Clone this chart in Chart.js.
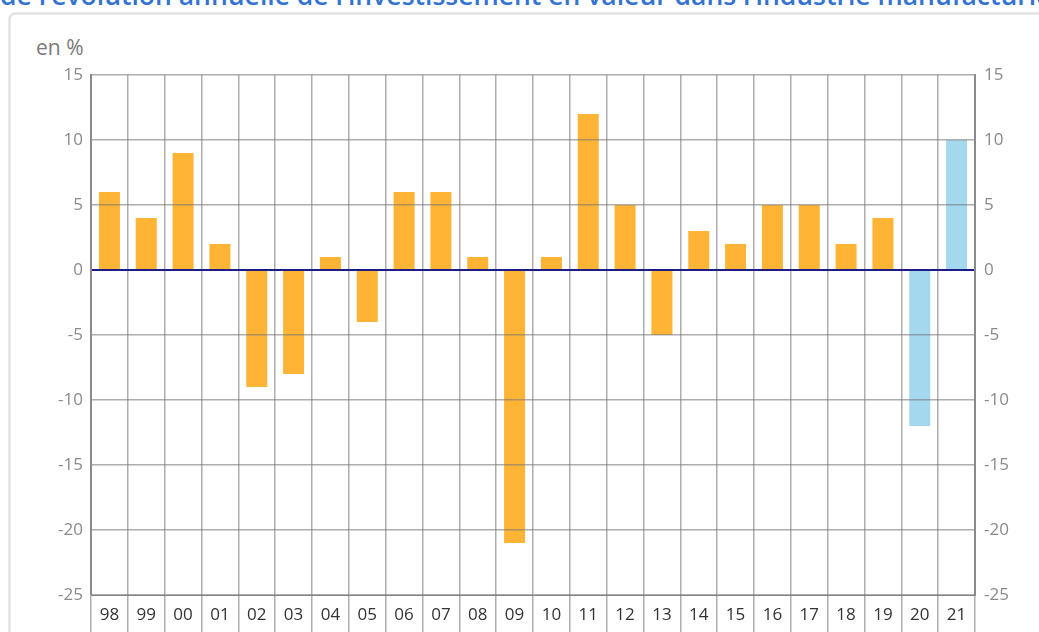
<!DOCTYPE html>
<html>
<head>
<meta charset="utf-8">
<script src="https://cdn.jsdelivr.net/npm/chart.js@4.4.1/dist/chart.umd.min.js"></script>
<style>
  html, body { margin: 0; padding: 0; background: #fff; overflow: hidden; }
  #wrap { position: relative; width: 1039px; height: 632px; overflow: hidden; }
  #titre {
    position: absolute; left: 0; top: -20px; white-space: nowrap;
    font-family: "Open Sans", sans-serif; font-size: 26.5px; font-weight: 600;
    color: #3473d0; line-height: 30px;
  }
  #unite {
    position: absolute; left: 36px; top: 33px;
    font-family: "Open Sans", sans-serif; font-size: 21px; color: #7a7a7a;
  }
  #c { position: absolute; left: 0; top: 0; }
</style>
</head>
<body>
<div id="wrap">
  <div id="titre">de l’évolution annuelle de l’investissement en valeur dans l’industrie manufacturière</div>
  <div id="unite">en %</div>
  <canvas id="c" width="1039" height="632"></canvas>
</div>
<script>
// années (2 chiffres) et évolution annuelle en %
var annees = ["98", "99", "00", "01", "02", "03", "04", "05", "06", "07", "08", "09",
              "10", "11", "12", "13", "14", "15", "16", "17", "18", "19", "20", "21"];
var evolution = [6, 4, 9, 2, -9, -8, 1, -4, 6, 6, 1, -21,
                 1, 12, 5, -5, 3, 2, 5, 5, 2, 4, -12, 10];
// années de prévision (en bleu)
var previsions = ["20", "21"];

var orange = "#ffb435";
var bleu = "#a3d8ee";
var couleurs = annees.map(function (a) {
  return previsions.indexOf(a) >= 0 ? bleu : orange;
});

var grille = "rgba(120,120,120,0.6)";

// cadre gris clair autour du graphique
var cadre = {
  id: 'cadre',
  beforeDraw: function (chart) {
    var c = chart.ctx;
    c.save();
    c.strokeStyle = "#e2e2e2";
    c.lineWidth = 2.5;
    c.beginPath();
    c.roundRect(9.5, 13.5, 1100, 700, 6);
    c.stroke();
    c.restore();
  }
};

var ctx = document.getElementById("c");

new Chart(ctx, {
  type: 'bar',
  data: {
    labels: annees,
    datasets: [
      {
        data: evolution,
        backgroundColor: couleurs,
        borderWidth: 0,
        categoryPercentage: 1,
        barPercentage: 0.57,
        yAxisID: 'y'
      }
    ]
  },
  plugins: [cadre],
  options: {
    responsive: false,
    animation: false,
    layout: {
      padding: { top: 75, left: 0, right: 0, bottom: 0 }
    },
    plugins: {
      legend: { display: false },
      tooltip: { enabled: false }
    },
    scales: {
      x: {
        afterFit: function (s) { s.height = 37; },
        grid: {
          offset: true,
          color: grille,
          lineWidth: 1.5,
          tickLength: 37,
          z: 1
        },
        border: { color: "#8a8a8a", z: 1 },
        ticks: {
          color: "#333",
          padding: -27,
          font: { family: "Open Sans", size: 17 }
        }
      },
      y: {
        position: 'left',
        min: -25,
        max: 15,
        afterFit: function (s) { s.width = 91; },
        ticks: {
          stepSize: 5,
          padding: 8,
          color: "#8a8a8a",
          font: { family: "Open Sans", size: 17 }
        },
        grid: {
          drawTicks: false,
          z: 1,
          color: function (c) {
            return c.tick && c.tick.value === 0 ? "#1c1c88" : grille;
          },
          lineWidth: function (c) {
            return c.tick && c.tick.value === 0 ? 2 : 1.5;
          }
        },
        border: { color: "#8a8a8a", width: 2, z: 1 }
      },
      y2: {
        position: 'right',
        min: -25,
        max: 15,
        afterFit: function (s) { s.width = 64; },
        ticks: {
          stepSize: 5,
          padding: 9,
          color: "#8a8a8a",
          font: { family: "Open Sans", size: 17 }
        },
        grid: { display: false, drawTicks: false, z: 1 },
        border: { color: "#8a8a8a", width: 2, z: 1 }
      }
    }
  }
});
</script>
</body>
</html>
